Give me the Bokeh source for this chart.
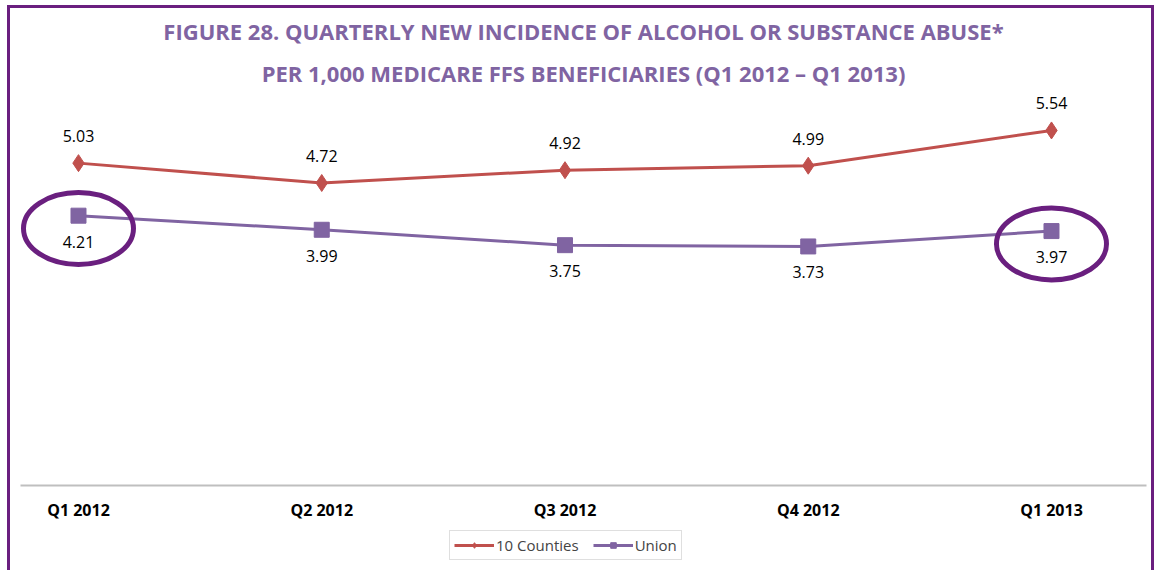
from bokeh.plotting import figure
from bokeh.layouts import column
from bokeh.models import (ColumnDataSource, FixedTicker, Legend, LegendItem,
                          Title, Range1d)
from bokeh.core.properties import value
from bokeh.embed import file_html
from bokeh.resources import INLINE

# ---- data ----
quarters = ["Q1 2012", "Q2 2012", "Q3 2012", "Q4 2012", "Q1 2013"]
counties = [5.03, 4.72, 4.92, 4.99, 5.54]
union = [4.21, 3.99, 3.75, 3.73, 3.97]
series_names = ["10 Counties", "Union"]
highlighted = [0, 4]  # Union points circled in the reference

title_line1 = "FIGURE 28. QUARTERLY NEW INCIDENCE OF ALCOHOL OR SUBSTANCE ABUSE*"
title_line2 = "PER 1,000 MEDICARE FFS BENEFICIARIES (Q1 2012 \u2013 Q1 2013)"

RED = "#c0504d"
PURPLE = "#8064a2"
DARK_PURPLE = "#6a1f7f"
FONT = "Open Sans"

idx = list(range(len(quarters)))
src = ColumnDataSource(dict(
    x=idx,
    counties=counties,
    union=union,
    clab=[f"{v:.2f}" for v in counties],
    ulab=[f"{v:.2f}" for v in union],
))

p = figure(
    width=1141, height=517,
    min_border_left=10, min_border_right=5, min_border_top=0, min_border_bottom=40,
    x_range=Range1d(-0.2384, 4.3906), y_range=Range1d(0, 6.132),
    output_backend="svg", toolbar_location=None,
)
p.outline_line_color = None
p.background_fill_color = "white"
p.border_fill_color = "white"
p.grid.visible = False
p.yaxis.visible = False

# x axis
xa = p.xaxis[0]
xa.ticker = FixedTicker(ticks=idx)
xa.major_label_overrides = {i: q for i, q in zip(idx, quarters)}
xa.major_tick_line_color = None
xa.minor_tick_line_color = None
xa.major_tick_out = 0
xa.major_tick_in = 0
xa.axis_line_color = "#bfbfbf"
xa.axis_line_width = 2
xa.major_label_text_font = FONT
xa.major_label_text_font_style = "bold"
xa.major_label_text_font_size = "16px"
xa.major_label_text_color = "#000000"
xa.major_label_standoff = 13

# titles (bottom line added first)
p.add_layout(Title(text=title_line2, align="center", text_font=FONT,
                   text_font_size="22px", text_font_style="bold",
                   text_color=PURPLE), "above")
p.add_layout(Title(text=title_line1, align="center", text_font=FONT,
                   text_font_size="22px", text_font_style="bold",
                   text_color=PURPLE), "above")

# series
p.line("x", "counties", source=src, line_color=RED, line_width=3)
p.scatter("x", "counties", source=src, marker="diamond", size=17,
          fill_color=RED, line_color=RED)
p.line("x", "union", source=src, line_color=PURPLE, line_width=3)
p.scatter("x", "union", source=src, marker="square", size=15,
          fill_color=PURPLE, line_color=PURPLE)

# data labels
p.text("x", "counties", text="clab", source=src, text_align="center",
       text_baseline="middle", y_offset=-27, text_font=value(FONT),
       text_font_size="16px", text_color="#000000")
p.text("x", "union", text="ulab", source=src, text_align="center",
       text_baseline="middle", y_offset=26, text_font=value(FONT),
       text_font_size="16px", text_color="#000000")

# highlight ellipses around circled Union points
hx = [idx[i] for i in highlighted]
hy = [union[i] - 0.2 for i in highlighted]
p.ellipse(x=hx, y=hy, width=110, height=72, width_units="screen",
          height_units="screen", fill_color=None, line_color=DARK_PURPLE,
          line_width=5)

# ---- legend strip (separate small figure under the chart) ----
# Its series renderers use the same data but lie outside this strip's ranges,
# so only the legend entries are visible here.
q = figure(
    width=1141, height=45, min_border=0,
    x_range=Range1d(0, 1), y_range=Range1d(0, 1),
    x_axis_location=None, y_axis_location=None,
    output_backend="svg", toolbar_location=None,
)
q.outline_line_color = None
q.grid.visible = False
q.background_fill_color = "white"
q.border_fill_color = "white"
ql1 = q.line("x", "counties", source=src, line_color=RED, line_width=3)
qm1 = q.scatter("x", "counties", source=src, marker="diamond", size=11,
                fill_color=RED, line_color=RED)
ql2 = q.line("x", "union", source=src, line_color=PURPLE, line_width=3)
qm2 = q.scatter("x", "union", source=src, marker="square", size=10,
                fill_color=PURPLE, line_color=PURPLE)
legend = Legend(items=[
    LegendItem(label=series_names[0], renderers=[ql1, qm1]),
    LegendItem(label=series_names[1], renderers=[ql2, qm2]),
], orientation="horizontal", location=(429, 10),
    label_text_font=FONT, label_text_font_size="15px",
    border_line_color="#bfbfbf", border_line_width=1,
    glyph_width=40, glyph_height=14, label_standoff=2, spacing=14,
    label_height=14, padding=4, margin=0)
q.add_layout(legend)

layout = column(p, q, spacing=0, styles={
    "margin-left": "7px",
    "margin-top": "5px",
    "border-left": f"3px solid {DARK_PURPLE}",
    "border-right": f"3px solid {DARK_PURPLE}",
    "border-top": f"3px solid {DARK_PURPLE}",
    "background-color": "white",
})

open("out.html", "w").write(file_html(layout, INLINE))
